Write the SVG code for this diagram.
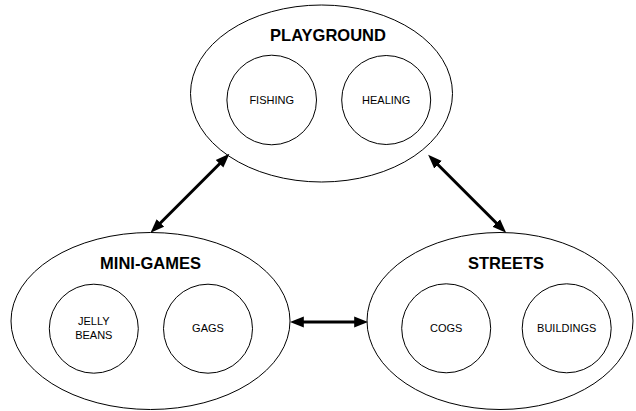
<svg xmlns="http://www.w3.org/2000/svg" width="636" height="411" viewBox="0 0 636 411">
<defs>
<style>
.outer{fill:#fff;stroke:#000;stroke-width:1}
.inner{fill:#fff;stroke:#000;stroke-width:1}
.title{font-family:"Liberation Sans",Arial,sans-serif;font-weight:bold;font-size:16.5px;fill:#000;text-anchor:middle}
.label{font-family:"Liberation Sans",Arial,sans-serif;font-size:11px;fill:#000;text-anchor:middle}
.conn{stroke:#000;stroke-width:3;fill:none;marker-start:url(#ah);marker-end:url(#ah)}
</style>
<marker id="ah" markerUnits="userSpaceOnUse" markerWidth="14" markerHeight="12" viewBox="0 0 13 10" refX="4" refY="5" orient="auto-start-reverse">
<path d="M0,0 L13,5 L0,10 z" fill="#000"/>
</marker>
</defs>
<rect width="636" height="411" fill="#fff"/>
<g id="playground">
<ellipse class="outer" cx="321.5" cy="93.5" rx="131" ry="88.5"/>
<text class="title" x="328" y="40.5">PLAYGROUND</text>
<g id="fishing">
<circle class="inner" cx="271.7" cy="100" r="44.8"/>
<text class="label" x="271.7" y="104">FISHING</text>
</g>
<g id="healing">
<circle class="inner" cx="386.2" cy="100" r="44.5"/>
<text class="label" x="386.2" y="104">HEALING</text>
</g>
</g>
<g id="minigames">
<ellipse class="outer" cx="150.5" cy="321" rx="139.5" ry="88.5"/>
<text class="title" x="150.5" y="269">MINI-GAMES</text>
<g id="jellybeans">
<circle class="inner" cx="93.8" cy="328.7" r="44.5"/>
<text class="label" x="93.8" y="325">JELLY</text>
<text class="label" x="93.8" y="339">BEANS</text>
</g>
<g id="gags">
<circle class="inner" cx="208" cy="328.7" r="44.5"/>
<text class="label" x="208" y="332">GAGS</text>
</g>
</g>
<g id="streets">
<ellipse class="outer" cx="500" cy="321" rx="133" ry="88.5"/>
<text class="title" x="506" y="269">STREETS</text>
<g id="cogs">
<circle class="inner" cx="446.2" cy="328.3" r="44.5"/>
<text class="label" x="446.2" y="332">COGS</text>
</g>
<g id="buildings">
<circle class="inner" cx="566.7" cy="328.3" r="44.5"/>
<text class="label" x="566.7" y="332">BUILDINGS</text>
</g>
</g>
<g id="connectors">
<line class="conn" x1="157.4" y1="226" x2="222.6" y2="160.7"/>
<line class="conn" x1="435" y1="161.7" x2="499.3" y2="226"/>
<line class="conn" x1="299.5" y1="322" x2="358.5" y2="322"/>
</g>
</svg>
